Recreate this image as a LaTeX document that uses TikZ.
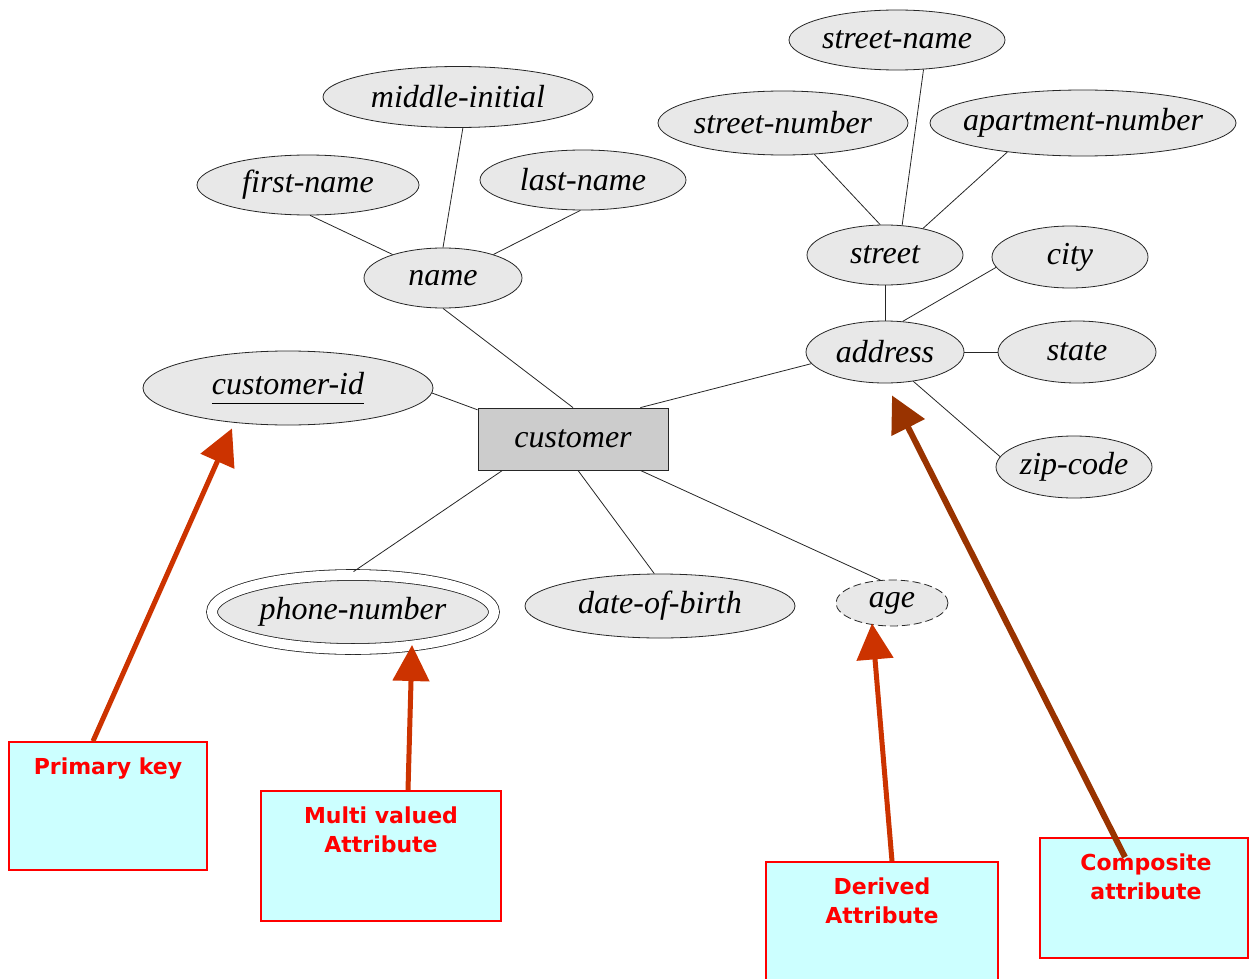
\documentclass[tikz,border=0pt]{standalone}
\usepackage{fontspec}
\newfontfamily\erfont{Liberation Serif}
\newfontfamily\notefont{DejaVu Sans}
\usetikzlibrary{shapes.geometric,arrows.meta,calc}
\definecolor{ergray}{HTML}{E8E8E8}
\definecolor{entgray}{HTML}{CCCCCC}
\definecolor{notefill}{HTML}{CCFFFF}
\definecolor{notered}{HTML}{FF0000}
\definecolor{arrowred}{HTML}{CC3300}
\definecolor{arrowbrown}{HTML}{993300}
% attribute names are set in a zero-width box so the ellipse size is fixed by the style
\newcommand{\attrlabel}[1]{\makebox[0pt][c]{#1}}

\begin{document}
\begin{tikzpicture}[x=1pt,y=-1pt,
  erfont/.style={font=\erfont\itshape\fontsize{32}{36}\selectfont},
  attr/.style={ellipse, draw=black!85, line width=0.8pt, fill=ergray, inner sep=0pt, erfont},
  entity/.style={rectangle, draw=black!85, line width=0.8pt, fill=entgray, inner sep=0pt,
    minimum width=190pt, minimum height=62pt, erfont},
  link/.style={draw=black!85, line width=0.8pt},
  note/.style={rectangle, draw=notered, line width=1.6pt, fill=notefill, inner sep=0pt},
  notetext/.style={font=\notefont\bfseries\fontsize{22}{29}\selectfont, text=notered,
    align=center, inner sep=0pt, anchor=north},
  pointer/.style={draw=arrowred, line width=5pt, -{Triangle[length=36pt,width=36pt]}},
]
\useasboundingbox (0,0) rectangle (1250,979);

% ---- attributes ----
\node[attr, minimum width=216pt, minimum height=60pt] (sname)  at (897,40)  {\attrlabel{street-name}};
\node[attr, minimum width=250pt, minimum height=64pt] (snum)   at (783,123) {\attrlabel{street-number}};
\node[attr, minimum width=306pt, minimum height=66pt] (apt)    at (1083,123) {\attrlabel{apartment-number}};
\node[attr, minimum width=270pt, minimum height=61pt] (mid)    at (458,97)  {\attrlabel{middle-initial}};
\node[attr, minimum width=222pt, minimum height=60pt] (first)  at (308,185) {\attrlabel{first-name}};
\node[attr, minimum width=206pt, minimum height=60pt] (last)   at (583,180) {\attrlabel{last-name}};
\node[attr, minimum width=156pt, minimum height=60pt] (street) at (885,255) {\attrlabel{street}};
\node[attr, minimum width=156pt, minimum height=62pt] (city)   at (1070,257) {\attrlabel{city}};
\node[attr, minimum width=158pt, minimum height=60pt] (name)   at (443,278) {\attrlabel{name}};
\node[attr, minimum width=158pt, minimum height=62pt] (addr)   at (885,352) {\attrlabel{address}};
\node[attr, minimum width=158pt, minimum height=62pt] (state)  at (1077,352) {\attrlabel{state}};
\node[attr, minimum width=290pt, minimum height=74pt] (cid)    at (288,388) {\attrlabel{\underline{customer-id\vphantom{p}}}};
\node[attr, minimum width=156pt, minimum height=62pt] (zip)    at (1074,467) {\attrlabel{zip-code}};
\node[attr, minimum width=282pt, minimum height=74pt, double=white, double distance=10pt]
      (phone) at (353,612) {\attrlabel{phone-number}};
\node[attr, minimum width=270pt, minimum height=64pt] (dob)    at (660,606) {\attrlabel{date-of-birth}};
\node[attr, minimum width=112pt, minimum height=46pt, dash pattern=on 8pt off 4pt] (age) at (892,603) {\attrlabel{age}};

% ---- entity ----
\node[entity] (cust) at (573,439) {customer};

% ---- connectors ----
\draw[link] (sname.-48) -- (street.60);
\draw[link] (snum.-45)  -- (street.99);
\draw[link] (apt.201)   -- (street.35);
\draw[link] (mid.-81)   -- (name.north);
\draw[link] (first.-86) -- (name.155);
\draw[link] (last.-95)  -- (name.25);
\draw[link] (street.south) -- (addr.north);
\draw[link] (city.188)  -- (addr.60);
\draw[link] (state.west) -- (addr.east);
\draw[link] (zip.172)   -- (addr.-46);
\draw[link] (name.south) -- (cust.north);
\draw[link] (addr.189)  -- (cust.25.5);
\draw[link] (cid.-2)    -- (cust.163);
\draw[link, shorten >=5.4pt] (cust.204) -- (phone.96);
\draw[link] (cust.-81)  -- (dob.100);
\draw[link] (cust.-25)  -- (age.117);

% ---- notes ----
\node[note, minimum width=198pt, minimum height=128pt] (pk)   at (108,806)   {};
\node[note, minimum width=240pt, minimum height=130pt] (mv)   at (381,856)   {};
\node[note, minimum width=232pt, minimum height=133pt] (der)  at (882,928.5) {};
\node[note, minimum width=208pt, minimum height=120pt] (comp) at (1144,898)  {};

\node[notetext] (pkt)   at ($(pk.north)+(0,16)$)   {Primary key};
\node[notetext] (mvt)   at ($(mv.north)+(0,16)$)   {Multi valued\\Attribute};
\node[notetext] (dert)  at ($(der.north)+(0,16)$)  {Derived\\Attribute};
\node[notetext] (compt) at ($(comp.north)+(2,16)$) {Composite\\attribute};

% ---- pointers ----
\coordinate (pkTip)   at ($(cid.south)+(-56,3)$);
\coordinate (mvTip)   at ($(phone.center)+(59,33)$);
\coordinate (derTip)  at ($(age.south)+(-20,-3)$);
\coordinate (compTip) at ($(addr.south)+(7,12)$);
\draw[pointer] ($(pk.north)+(-15,0)$) -- (pkTip);
\draw[pointer] ($(mv.north)+(27,0)$)  -- (mvTip);
\draw[pointer] ($(der.north)+(10,0)$) -- (derTip);
\draw[pointer, draw=arrowbrown, line width=6pt] ($(comp.north)+(-19,20)$) -- (compTip);
\end{tikzpicture}
\end{document}
